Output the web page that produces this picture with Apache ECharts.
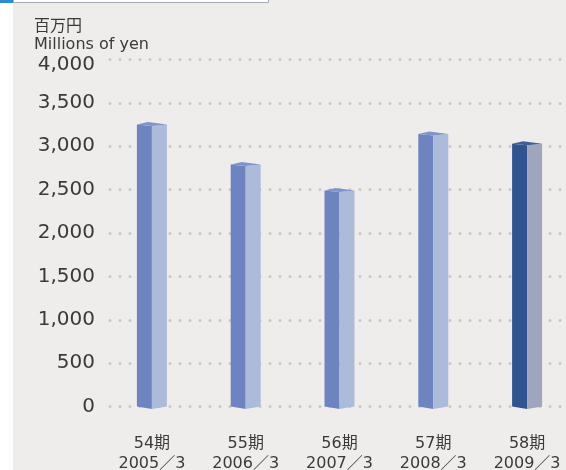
<!DOCTYPE html>
<html>
<head>
<meta charset="utf-8">
<script src="https://cdn.jsdelivr.net/npm/echarts@6/dist/echarts.min.js"></script>
<style>
  html, body { margin: 0; padding: 0; background: #ffffff; }
  #chart { width: 566px; height: 470px; }
</style>
</head>
<body>
<div id="chart"></div>
<script>
// ---- data ----
const periods = ['54期', '55期', '56期', '57期', '58期'];
const fiscalYears = ['2005／3', '2006／3', '2007／3', '2008／3', '2009／3'];
const values = [3250, 2790, 2490, 3140, 3030];
const yTicks = [0, 500, 1000, 1500, 2000, 2500, 3000, 3500, 4000];
const unitJa = '百万円';
const unitEn = 'Millions of yen';

const categories = periods.map((p, i) => p + '\n' + fiscalYears[i]);

const chart = echarts.init(document.getElementById('chart'), null, { renderer: 'canvas' });

const normalColors = { left: '#6e84c1', right: '#adbbda', top: '#8193cb' };
const lastColors = { left: '#2f5490', right: '#9ea5bc', top: '#405e98' };

const labelFont = "'DejaVu Sans', sans-serif";

const option = {
  backgroundColor: '#eeedeb',
  animation: false,
  graphic: [
    { type: 'rect', shape: { x: 0, y: 0, width: 13, height: 470 }, style: { fill: '#ffffff' }, z: 10 },
    { type: 'rect', shape: { x: 13.5, y: -5, width: 255, height: 7.5 }, style: { fill: '#ffffff', stroke: '#a6aab8', lineWidth: 1 }, z: 10 },
    { type: 'rect', shape: { x: 0, y: 0, width: 13, height: 3 }, style: { fill: '#2a8bd0' }, z: 11 }
  ],
  title: {
    text: unitJa + '\n' + unitEn,
    left: 34,
    top: 18,
    padding: 0,
    textStyle: {
      fontFamily: "'DejaVu Sans', 'Noto Sans CJK JP', sans-serif",
      fontSize: 16,
      fontWeight: 'normal',
      color: '#3a3a3a',
      lineHeight: 18
    }
  },
  grid: { left: 105, width: 469, top: 59.5, bottom: 63.5, containLabel: false, outerBoundsMode: 'none' },
  xAxis: {
    type: 'category',
    data: categories,
    axisLine: { show: false },
    axisTick: { show: false },
    axisLabel: {
      margin: 27,
      fontFamily: "'DejaVu Sans', 'Noto Sans CJK JP', sans-serif",
      fontSize: 16,
      lineHeight: 20,
      color: '#3a3a3a'
    },
    splitLine: { show: false }
  },
  yAxis: {
    type: 'value',
    min: 0,
    max: 4000,
    interval: 500,
    axisLine: { show: false },
    axisTick: { show: false },
    axisLabel: {
      margin: 10,
      fontFamily: labelFont,
      fontSize: 20,
      color: '#3a3a3a',
      formatter: v => {
        if (!yTicks.includes(v)) return '';
        const s = v.toLocaleString('en-US');
        return v === yTicks[yTicks.length - 1] ? '{low|' + s + '}' : s;
      },
      rich: {
        low: { fontFamily: labelFont, fontSize: 20, color: '#3a3a3a', padding: [10, 0, 0, 0] }
      }
    },
    splitLine: {
      show: true,
      lineStyle: { color: '#cec6c6', width: 3, type: [0, 10], cap: 'round', dashOffset: -5 }
    }
  },
  series: [{
    type: 'custom',
    data: values.map((v, i) => [i, v]),
    encode: { x: 0, y: 1 },
    renderItem: function (params, api) {
      const idx = api.value(0);
      const top = api.coord([idx, api.value(1)]);
      const base = api.coord([idx, 0]);
      const cx = top[0];
      const hw = 15;
      const ty = top[1];
      const by = base[1];
      const c = idx === values.length - 1 ? lastColors : normalColors;
      return {
        type: 'group',
        children: [
          { type: 'polygon', shape: { points: [[cx - hw, ty], [cx, ty + 1.5], [cx, by + 2.5], [cx - hw, by]] }, style: { fill: c.left } },
          { type: 'polygon', shape: { points: [[cx, ty + 1.5], [cx + hw, ty], [cx + hw, by], [cx, by + 2.5]] }, style: { fill: c.right } },
          { type: 'polygon', shape: { points: [[cx - hw, ty], [cx - 4, ty - 2.5], [cx + hw, ty], [cx, ty + 1.5]] }, style: { fill: c.top } }
        ]
      };
    }
  }]
};

chart.setOption(option);
</script>
</body>
</html>
